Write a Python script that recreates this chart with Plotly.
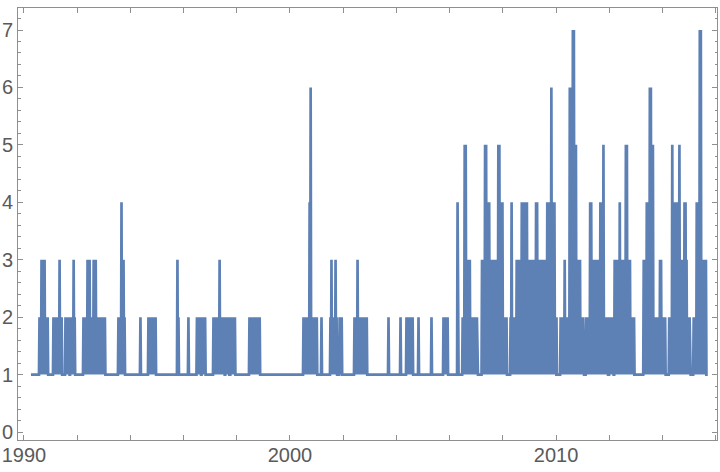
import pandas as pd
import plotly.graph_objects as go

# Weekly series: each segment = (start date, weekly values as digits); value 1 between segments
series_start = "1990-04-07"
series_end = "2015-08-08"
segments = [
    ("1990-07-26", "1212" "13131313" "121212" "1"),
    ("1991-02-03", "121212121212" "13" "1212" "1"),
    ("1991-07-18", "12121212" "11" "121212" "13" "12" "1"),
    ("1992-03-21", "12121212" "131313" "12" "1212" "131313" "121212121212121212" "1"),
    ("1993-07-14", "121212" "14" "1313" "12" "1"),
    ("1994-05-12", "121"),
    ("1994-08-30", "1212121212121212" "1"),
    ("1995-10-02", "13121"),
    ("1996-03-01", "121"),
    ("1996-06-19", "1" "12121212" "11" "12121212" "1"),
    ("1997-02-08", "121212121212" "13" "12121212" "11" "12121212" "11" "1212121212" "1"),
    ("1998-06-17", "1212121212121212121212" "1"),
    ("2000-06-28", "1212121212" "12" "14" "16" "121212121212" "1"),
    ("2001-03-02", "121"),
    ("2001-07-03", "12" "13" "121212" "13" "12" "1111" "121212" "1"),
    ("2002-05-29", "121212" "13" "121212121212121212" "1"),
    ("2003-09-08", "121"),
    ("2004-02-20", "121"),
    ("2004-05-12", "12121212121212" "1"),
    ("2004-10-24", "121"),
    ("2005-04-20", "121"),
    ("2005-10-02", "1212121212" "1"),
    ("2006-03-16", "1111" "14" "11111111" "12" "12" "1515" "13" "131313" "12"
                   "121212121212" "11111111" "1313" "13" "1515" "14" "1414" "13"
                   "131313131313" "13" "1515" "14" "1414" "12" "121212" "111111"
                   "12" "14" "12" "121212" "1313131313" "1414" "13" "141414"
                   "1312131313121313" "1414" "131213131312131313" "14141414" "16"
                   "141414" "1212" "1"),
    ("2009-12-18", "1111111111" "12121212" "13" "12121212" "161616" "1717" "1515"
                   "13131313" "121212" "1111" "12121212" "1414" "1313121313131213"
                   "141414" "15" "12121212" "11" "12121212" "11" "1313131313" "14"
                   "1313131313" "1515" "131313" "12121212" "1"),
    ("2012-11-23", "11111111111111111111" "131313" "141414" "1616" "1515" "1212121212"
                   "12" "1313" "12121212" "111111" "121212" "15" "141414141414" "15"
                   "13131313" "1414" "13" "121212" "111111" "121212" "14" "13" "14"
                   "1717" "1313131313" "1"),
]

x_tick_dates = [f"{y}-01-01" for y in range(1990, 2017, 2)]
x_tick_text = ["1990", "", "", "", "", "2000", "", "", "", "", "2010", "", "", ""]
y_tick_vals = [0, 1, 2, 3, 4, 5, 6, 7]

dates = [pd.Timestamp(series_start)]
values = [1]
for d0, s in segments:
    t0 = pd.Timestamp(d0)
    for i, ch in enumerate(s):
        dates.append(t0 + pd.Timedelta(days=7 * i))
        values.append(int(ch))
dates.append(pd.Timestamp(series_end))
values.append(1)

fig = go.Figure()
fig.add_trace(go.Scatter(x=dates, y=values, mode="lines",
                         line=dict(color="#5E81B5", width=2.7), hoverinfo="skip"))

frame = "#8f8f8f"
font = dict(family="Liberation Sans, Arial, sans-serif", size=20, color="#5a5a5a")
fig.update_layout(
    width=720, height=472,
    margin=dict(l=18, r=3, t=8, b=32, autoexpand=False),
    paper_bgcolor="white", plot_bgcolor="white",
    showlegend=False, font=font,
)
fig.update_xaxes(
    type="date", range=["1989-10-11", "2016-01-20"],
    tickmode="array", tickvals=x_tick_dates, ticktext=x_tick_text,
    ticks="inside", ticklen=5, tickcolor=frame, tickwidth=1,
    showline=True, linecolor=frame, linewidth=1, mirror="ticks",
    showgrid=False, zeroline=False, automargin=False, tickfont=font,
    ticklabelstandoff=-3,
)
fig.update_yaxes(
    range=[-0.139, 7.383],
    tickmode="array", tickvals=y_tick_vals,
    ticks="inside", ticklen=5, tickcolor=frame, tickwidth=1,
    minor=dict(dtick=0.2, ticks="inside", ticklen=2.5, tickcolor=frame, showgrid=False),
    showline=True, linecolor=frame, linewidth=1, mirror="ticks",
    showgrid=False, zeroline=False, automargin=False, tickfont=font,
)

fig.write_html("out.html", config={"displayModeBar": False},
               post_script="document.body.style.margin='0';document.body.style.overflow='hidden';")
